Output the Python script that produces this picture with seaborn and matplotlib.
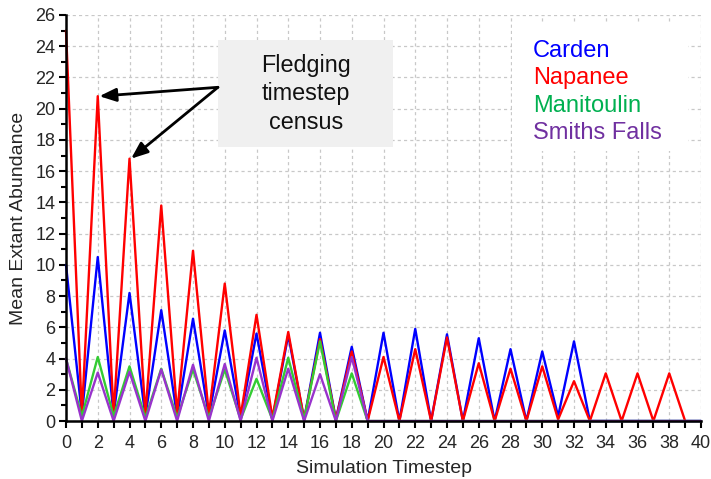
import numpy as np
import pandas as pd
import seaborn as sns
import matplotlib
matplotlib.use("Agg")
import matplotlib.pyplot as plt
from matplotlib.patches import Rectangle
from matplotlib.ticker import MultipleLocator

# Simulation timesteps
timestep = list(range(0, 41))

# Mean extant abundance per population (fledging census on even timesteps)
carden = [10.0, 0.4, 10.5, 0.4, 8.2, 0.3, 7.1, 0.3, 6.55, 0.3,
          5.8, 0.2, 5.6, 0.1, 5.5, 0.1, 5.65, 0.1, 4.75, 0.0,
          5.65, 0.0, 5.9, 0.0, 5.55, 0.0, 5.3, 0.0, 4.6, 0.0,
          4.45, 0.3, 5.1, 0.0, 0.0, 0.0, 0.0, 0.0, 0.0, 0.0, 0.0]
napanee = [25.0, 0.4, 20.8, 0.4, 16.8, 0.4, 13.8, 0.5, 10.9, 0.4,
           8.8, 0.3, 6.8, 0.2, 5.7, 0.1, 5.25, 0.1, 4.45, 0.0,
           4.1, 0.0, 4.6, 0.0, 5.35, 0.0, 3.7, 0.0, 3.35, 0.0,
           3.5, 0.1, 2.55, 0.0, 3.05, 0.0, 3.05, 0.0, 3.05, 0.0, np.nan]
manitoulin = [4.0, 0.3, 4.1, 0.3, 3.5, 0.2, 3.35, 0.2, 3.3, 0.2,
              3.3, 0.1, 2.7, 0.1, 4.05, 0.1, 5.1, 0.0, 3.05, 0.0,
              0.0, 0.0, 0.0, 0.0, 0.0, 0.0, 0.0, 0.0, 0.0, 0.0,
              0.0, 0.0, 0.0, 0.0, 0.0, 0.0, 0.0, 0.0, 0.0, 0.0, 0.0]
smiths_falls = [4.0, 0.0, 3.1, 0.0, 3.15, 0.0, 3.3, 0.0, 3.6, 0.0,
                3.65, 0.0, 4.05, 0.0, 3.35, 0.0, 3.0, 0.0, 4.1, 0.0,
                0.0, 0.0, 0.0, 0.0, 0.0, 0.0, 0.0, 0.0, 0.0, 0.0,
                0.0, 0.0, 0.0, 0.0, 0.0, 0.0, 0.0, 0.0, 0.0, 0.0, 0.0]

sites = ["Carden", "Napanee", "Manitoulin", "Smiths Falls"]
line_colors = ["#0000ff", "#ff0000", "#33cc33", "#9933cc"]
label_colors = ["#0000ff", "#ff0000", "#00b050", "#7030a0"]

df = pd.DataFrame({
    "Simulation Timestep": timestep * 4,
    "Mean Extant Abundance": carden + napanee + manitoulin + smiths_falls,
    "Site": sum([[s] * len(timestep) for s in sites], []),
})

sns.set_style("white")
plt.rcParams["font.family"] = ["Liberation Sans", "DejaVu Sans"]

fig = plt.figure(figsize=(7.11, 4.79), dpi=100)
ax = fig.add_axes([66 / 711, 1 - 421 / 479, 635 / 711, 406 / 479])

sns.lineplot(data=df, x="Simulation Timestep", y="Mean Extant Abundance",
             hue="Site", hue_order=sites, palette=line_colors,
             linewidth=1.7, ax=ax, legend=False, zorder=3)
for line in ax.lines:
    line.set_clip_on(False)

ax.set_xlim(0, 40)
ax.set_ylim(0, 26)
ax.xaxis.set_major_locator(MultipleLocator(2))
ax.xaxis.set_minor_locator(MultipleLocator(1))
ax.yaxis.set_major_locator(MultipleLocator(2))
ax.yaxis.set_minor_locator(MultipleLocator(1))
ax.grid(True, which="major", color="#c8c8c8", linestyle=(0, (2.5, 2.5)),
        linewidth=0.9, zorder=0)
ax.set_axisbelow(True)

for side in ("top", "right"):
    ax.spines[side].set_visible(False)
for side in ("left", "bottom"):
    ax.spines[side].set_color("black")
    ax.spines[side].set_linewidth(1.8)
    ax.spines[side].set_zorder(5)

ax.tick_params(axis="both", which="major", direction="out", length=5,
               width=1.5, color="black", labelsize=13,
               bottom=True, left=True)
ax.tick_params(axis="x", which="major", pad=5)
ax.tick_params(axis="y", which="major", pad=2.5)
ax.tick_params(axis="x", which="minor", direction="out", length=5,
               width=1.5, color="black", bottom=True)
ax.tick_params(axis="y", which="minor", direction="out", length=3.5,
               width=1.5, color="black", left=True)

ax.set_xlabel("Simulation Timestep", fontsize=14, labelpad=6)
ax.set_ylabel("Mean Extant Abundance", fontsize=14, labelpad=6)

# Callout box with arrows to the fledging census peaks
ax.add_patch(Rectangle((9.57, 17.54), 11.0, 6.86, facecolor="#f0f0f0",
                       edgecolor="none", zorder=4))
ax.text(15.1, 20.95, "Fledging\ntimestep\ncensus", ha="center", va="center",
        fontsize=16.8, linespacing=1.3, color="#111111", zorder=6)
arrow_style = dict(arrowstyle="-|>,head_length=1.0,head_width=0.4",
                   color="black", lw=2, shrinkA=0, shrinkB=0)
ax.annotate("", xy=(2.1, napanee[2]), xytext=(9.57, 21.37),
            arrowprops=arrow_style, zorder=6)
ax.annotate("", xy=(4.1, napanee[4]), xytext=(9.57, 21.37),
            arrowprops=arrow_style, zorder=6)

# Legend: coloured site names on a white panel
ax.add_patch(Rectangle((28.1, 17.3), 11.1, 8.1, facecolor="white",
                       edgecolor="none", zorder=4))
for i, (name, col) in enumerate(zip(sites, label_colors)):
    ax.text(29.4, 23.3 - i * 1.75, name, color=col, fontsize=17,
            ha="left", va="baseline", zorder=6)

fig.savefig("out.png", dpi=100)
